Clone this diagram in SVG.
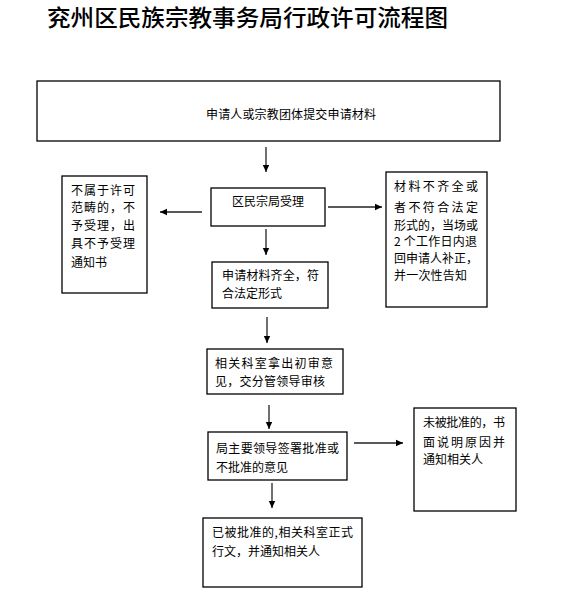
<svg xmlns="http://www.w3.org/2000/svg" width="564" height="610" viewBox="0 0 564 610">
<style>
text{font-family:"Noto Sans CJK SC","Noto Sans CJK TC",sans-serif;font-size:12px;fill:#000}
.title{font-size:23px;font-weight:500}
.box{fill:#fff;stroke:#000;stroke-width:1.3}
.conn line{stroke:#222;stroke-width:1.3;marker-end:url(#ah)}
</style>
<defs>
<marker id="ah" markerWidth="8" markerHeight="8" refX="7" refY="4" orient="auto" markerUnits="userSpaceOnUse">
<path d="M0,0.8 L7,4 L0,7.2 Z" fill="#000"/>
</marker>
</defs>
<rect width="564" height="610" fill="#fff"/>
<text class="title" x="47" y="26" textLength="401" lengthAdjust="spacingAndGlyphs">兖州区民族宗教事务局行政许可流程图</text>

<g id="n1">
<rect class="box" x="37" y="81" width="463" height="60"/>
<text x="206" y="118.5" textLength="170">申请人或宗教团体提交申请材料</text>
</g>
<g id="n2">
<rect class="box" x="211" y="188" width="114" height="38"/>
<text x="232" y="205.5" textLength="72">区民宗局受理</text>
</g>
<g id="n3">
<rect class="box" x="62" y="176" width="85" height="117"/>
<text x="71" y="194.5" textLength="64">不属于许可</text>
<text x="71" y="211.5" textLength="64">范畴的，不</text>
<text x="71" y="229.5" textLength="64">予受理，出</text>
<text x="71" y="247.5" textLength="64">具不予受理</text>
<text x="71" y="266.5">通知书</text>
</g>
<g id="n4">
<rect class="box" x="386" y="172" width="101" height="135"/>
<text x="394" y="191" textLength="84">材料不齐全或</text>
<text x="394" y="212" textLength="84">者不符合法定</text>
<text x="394" y="229.5" textLength="84">形式的，当场或</text>
<text x="394" y="246" textLength="83">2 个工作日内退</text>
<text x="394" y="263" textLength="84">回申请人补正，</text>
<text x="394" y="280" textLength="73">并一次性告知</text>
</g>
<g id="n5">
<rect class="box" x="212" y="262" width="116" height="46"/>
<text x="222" y="279.5" textLength="97">申请材料齐全，符</text>
<text x="222" y="297.5">合法定形式</text>
</g>
<g id="n6">
<rect class="box" x="207" y="349" width="136" height="45"/>
<text x="215" y="367.5" textLength="118">相关科室拿出初审意</text>
<text x="215" y="385.5" textLength="110">见，交分管领导审核</text>
</g>
<g id="n7">
<rect class="box" x="208" y="432" width="139" height="48"/>
<text x="216" y="452.5" textLength="123">局主要领导签署批准或</text>
<text x="216" y="471.5">不批准的意见</text>
</g>
<g id="n8">
<rect class="box" x="414" y="408" width="102" height="103"/>
<text x="423" y="426.5" textLength="82">未被批准的，书</text>
<text x="423" y="446.5" textLength="82">面说明原因并</text>
<text x="423" y="463.5">通知相关人</text>
</g>
<g id="n9">
<rect class="box" x="203" y="518" width="159" height="69"/>
<text x="212" y="536.5" textLength="141">已被批准的,相关科室正式</text>
<text x="212" y="555.5" textLength="108">行文，并通知相关人</text>
</g>

<g id="connectors" class="conn">
<line x1="266" y1="147" x2="266" y2="172"/>
<line x1="202" y1="212" x2="160" y2="212"/>
<line x1="328" y1="207" x2="382" y2="207"/>
<line x1="266" y1="229" x2="266" y2="255"/>
<line x1="267" y1="317" x2="267" y2="343"/>
<line x1="269" y1="405" x2="269" y2="429"/>
<line x1="354" y1="443" x2="403" y2="443"/>
<line x1="272" y1="483" x2="272" y2="508"/>
</g>
</svg>
